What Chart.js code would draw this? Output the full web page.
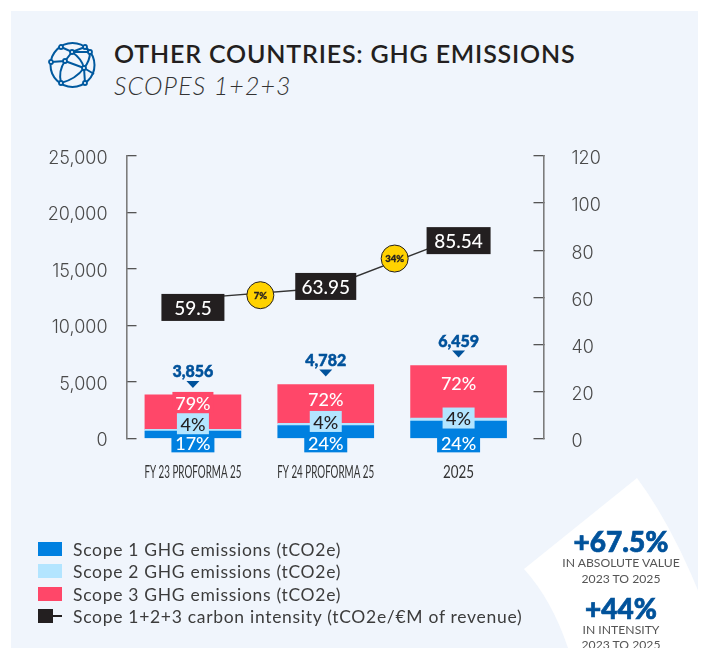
<!DOCTYPE html>
<html><head><meta charset="utf-8">
<style>
html,body{margin:0;padding:0;background:#fff;width:702px;height:648px;overflow:hidden;font-family:Lato,sans-serif}
#panel{position:absolute;left:11px;top:11px;width:687px;height:637px;background:#f0f5fc}
#shape{position:absolute;left:0;top:0}
canvas{position:absolute;left:0;top:0}
.t{position:absolute;white-space:nowrap}
#title{left:114px;top:38px;font-size:25px;font-weight:600;color:#231f20;letter-spacing:.82px}
#sub{left:114px;top:70px;font-size:25px;font-style:italic;font-weight:300;color:#333;letter-spacing:1.1px}
.lg{left:73px;font-size:17.5px;color:#3c3c3c;letter-spacing:.7px}
.sw{position:absolute;left:38px;width:24px;height:14px}
.big{font-size:28px;font-weight:900;color:#00529b;width:140px;text-align:center;left:551px;-webkit-text-stroke:.7px #00529b}
.small{font-size:12.2px;color:#555;width:140px;text-align:center;left:551px}
</style></head><body>
<div id="panel"></div>
<svg id="shape" width="702" height="648"><path fill="#fff" d="M637 478 L524 569 Q552 600 568 648 L702 648 L702 600 Q672 525 637 478 Z"/></svg>
<svg class="t" style="left:48px;top:41px" width="50" height="50" viewBox="0 0 50 50" fill="none" stroke="#00599f" stroke-width="2">
<circle cx="24.5" cy="24" r="22"/>
<path d="M13 6 L24 11 L37 6 M37 6 L42 11 M24 11 L42 11 M24 11 L17 20 L3 21 M17 20 L36 27 L37 42 M17 20 Q10 30 13 42 M36 27 Q28 38 13 42 M24 11 Q34 18 36 27 M42 11 Q42 20 36 27 M36 27 L46 33"/>
<g fill="#f0f5fc" stroke-width="1.8"><circle cx="13" cy="6" r="2"/><circle cx="37" cy="6" r="2"/><circle cx="42" cy="11" r="2"/><circle cx="24" cy="11" r="2"/><circle cx="17" cy="20" r="2"/><circle cx="3" cy="21" r="2"/><circle cx="36" cy="27" r="2"/><circle cx="37" cy="42" r="2"/><circle cx="13" cy="42" r="2"/></g>
</svg>
<div class="t" id="title">OTHER COUNTRIES: GHG EMISSIONS</div>
<div class="t" id="sub">SCOPES 1+2+3</div>
<canvas id="c" width="702" height="648"></canvas>
<div id="legend"></div>
<div class="t big" style="top:524px">+67.5%</div>
<div class="t small" style="top:555px">IN ABSOLUTE VALUE</div>
<div class="t small" style="top:571px">2023 TO 2025</div>
<div class="t big" style="top:591px">+44%</div>
<div class="t small" style="top:622px">IN INTENSITY</div>
<div class="t small" style="top:637px">2023 TO 2025</div>
<script src="https://cdn.jsdelivr.net/npm/chart.js@4/dist/chart.umd.min.js"></script>
<script>
const categories = ['FY 23 PROFORMA 25', 'FY 24 PROFORMA 25', '2025'];
const scope1 = [655, 1148, 1550];
const scope2 = [154, 191, 258];
const scope3 = [3047, 3443, 4651];
const totals = ['3,856', '4,782', '6,459'];
const intensity = [59.5, 63.95, 85.54];
const scope1Pct = ['17%', '24%', '24%'];
const scope2Pct = ['4%', '4%', '4%'];
const scope3Pct = ['79%', '72%', '72%'];
const growthPct = ['7%', '34%'];
const leftTicks = [0, 5000, 10000, 15000, 20000, 25000];
const rightTicks = [0, 20, 40, 60, 80, 100, 120];
const legendNames = ['Scope 1 GHG emissions (tCO2e)', 'Scope 2 GHG emissions (tCO2e)', 'Scope 3 GHG emissions (tCO2e)', 'Scope 1+2+3 carbon intensity (tCO2e/€M of revenue)'];

const BLUE='#0080e0', LIGHT='#b3e5ff', PINK='#ff4769', INK='#231f20', YEL='#ffd200', NAVY='#00529b', AXIS='#7c7c7c', TICKTXT='#4a4a4a';
const FONT='Lato, sans-serif', TICKFONT='Inter, sans-serif';

// legend
const lg=document.getElementById('legend');
[[BLUE,542],[LIGHT,564],[PINK,587],[INK,609]].forEach(([col,y],i)=>{
  const s=document.createElement('div');s.className='sw';s.style.top=y+'px';s.style.background=i==3?'none':col;
  if(i==3){s.innerHTML='<div style="position:absolute;left:0;top:0;width:15px;height:14px;background:'+col+'"></div><div style="position:absolute;left:15px;top:6px;width:9px;height:1.5px;background:'+col+'"></div>';}
  lg.appendChild(s);
  const t=document.createElement('div');t.className='t lg';t.style.top=[539,561,584,606][i]+'px';t.textContent=legendNames[i];lg.appendChild(t);
});

function box(ctx,x,y,w,h,col){ctx.fillStyle=col;ctx.fillRect(x-w/2,y-h/2,w,h);}
function txt(ctx,s,x,y,font,col){ctx.font=font;ctx.fillStyle=col;ctx.textAlign='center';ctx.textBaseline='middle';ctx.fillText(s,x,y);}

const overlay={
  id:'overlay',
  afterLayout(chart){ const r=chart.scales.yRight; r.left+=18.5; r.right+=18.5; },
  afterDatasetsDraw(chart){
    const ctx=chart.ctx, m1=chart.getDatasetMeta(0), m2=chart.getDatasetMeta(1), m3=chart.getDatasetMeta(2), ml=chart.getDatasetMeta(3);
    ctx.save();
    const lbl='500 18px '+FONT;
    const nudge3=[-7.5,-4,-8], nudge2=[-6.5,-3,-1.5];
    categories.forEach((c,i)=>{
      const x=m1.data[i].x, base=m1.data[i].base, top=m3.data[i].y;
      const y3=(top+m3.data[i].base)/2+nudge3[i], y2=(m2.data[i].y+m2.data[i].base)/2+nudge2[i];
      if(i===0) box(ctx,x,top+7.5,41,21,PINK);
      txt(ctx,scope3Pct[i],x,y3,lbl,'#fff');
      box(ctx,x,base+4,43,21,BLUE);
      txt(ctx,scope1Pct[i],x,base+6.5,lbl,'#fff');
      box(ctx,x,y2,32,21,LIGHT);
      txt(ctx,scope2Pct[i],x,y2+1.5,lbl,INK);
      // total with marker
      const tb=top-[7,8,8][i];
      ctx.fillStyle=NAVY;ctx.beginPath();ctx.moveTo(x-6.5,tb-7);ctx.lineTo(x+6.5,tb-7);ctx.lineTo(x,tb);ctx.closePath();ctx.fill();
      txt(ctx,totals[i],x,tb-16,'900 16px '+FONT,NAVY);
      ctx.strokeStyle=NAVY;ctx.lineWidth=.5;ctx.strokeText(totals[i],x,tb-16);
      // category label, condensed
      const target=[97,97,31][i], f='400 17.5px '+FONT;
      ctx.save();ctx.font=f;const k=target/ctx.measureText(c).width;
      ctx.translate(x,chart.chartArea.bottom+33.5);ctx.scale(k,1);
      txt(ctx,c,0,0,f,'#333');ctx.restore();
    });
    const w=[63,61,64], nudge=[9,-1.5,3.5];
    ml.data.forEach((p,i)=>{
      box(ctx,p.x,p.y+nudge[i],w[i],27,INK);
      txt(ctx,String(intensity[i]),p.x,p.y+nudge[i]+1,'500 19px '+FONT,'#fff');
    });
    const gx=[1,2.5], gy=[2,-4];
    growthPct.forEach((g,i)=>{
      const a=ml.data[i], b=ml.data[i+1];
      const X=(a.x+b.x)/2+gx[i], Y=(a.y+b.y)/2+gy[i];
      ctx.beginPath();ctx.arc(X,Y,13.5,0,Math.PI*2);ctx.fillStyle=YEL;ctx.fill();ctx.lineWidth=1;ctx.strokeStyle=INK;ctx.stroke();
      txt(ctx,g,X,Y+.5,'900 9.5px '+FONT,INK);
      ctx.lineWidth=.3;ctx.strokeText(g,X,Y+.5);
    });
    ctx.restore();
  }
};

new Chart(document.getElementById('c'),{
  data:{labels:categories,datasets:[
    {type:'bar',label:legendNames[0],data:scope1,backgroundColor:BLUE,stack:'s',yAxisID:'yLeft',barThickness:96,order:2},
    {type:'bar',label:legendNames[1],data:scope2,backgroundColor:LIGHT,stack:'s',yAxisID:'yLeft',barThickness:96,order:2},
    {type:'bar',label:legendNames[2],data:scope3,backgroundColor:PINK,stack:'s',yAxisID:'yLeft',barThickness:96,order:2},
    {type:'line',label:legendNames[3],data:intensity,borderColor:'#333',borderWidth:1.4,pointRadius:0,yAxisID:'yRight',tension:0,order:1}
  ]},
  plugins:[overlay],
  options:{
    responsive:false,animation:false,
    layout:{padding:{left:0,right:117,top:156,bottom:0}},
    plugins:{legend:{display:false},tooltip:{enabled:false}},
    scales:{
      x:{offset:true,grid:{display:false,drawTicks:false},border:{display:false},
        afterFit(s){s.height=648-438.5;},
        ticks:{display:false}},
      yLeft:{position:'left',min:0,max:25000,afterFit(s){s.width=126.5;},
        afterBuildTicks(s){s.ticks=leftTicks.map(v=>({value:v}));},
        border:{color:AXIS,width:1.6},
        grid:{drawOnChartArea:false,tickLength:-10,color:'#555',lineWidth:1.3},
        ticks:{padding:29,labelOffset:2.5,color:TICKTXT,font:{family:TICKFONT,size:18,weight:'300'},callback:v=>v.toLocaleString('en-US')}},
      yRight:{position:'right',min:0,max:120,afterFit(s){s.width=60;},
        afterBuildTicks(s){s.ticks=rightTicks.map(v=>({value:v}));},
        border:{color:AXIS,width:1.6},
        grid:{drawOnChartArea:false,tickLength:-10,color:'#555',lineWidth:1.3},
        ticks:{padding:38,labelOffset:3,color:TICKTXT,font:{family:TICKFONT,size:18,weight:'300'}}}
    }
  }
});
</script>
</body></html>
